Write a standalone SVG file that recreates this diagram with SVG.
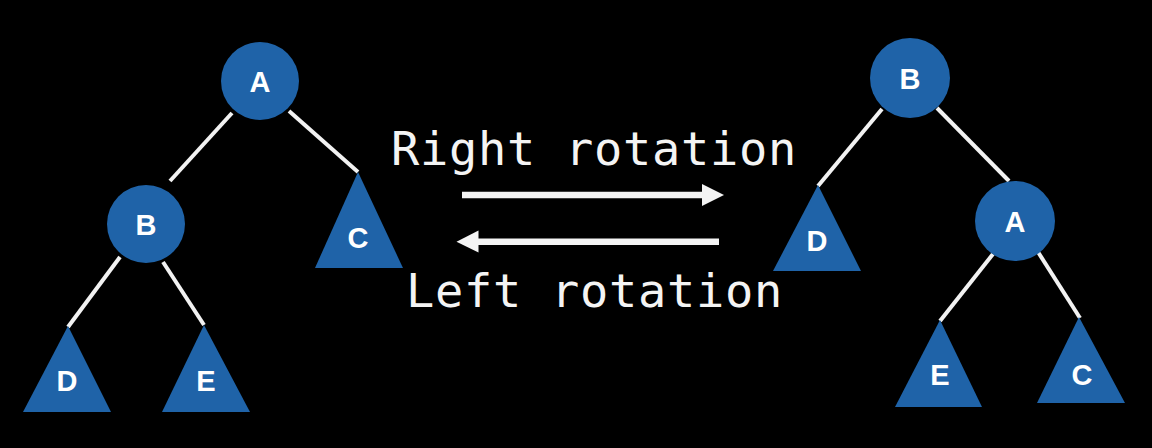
<svg xmlns="http://www.w3.org/2000/svg" width="1152" height="448" viewBox="0 0 1152 448">
  <style>
    .node { fill: #1f63a8; }
    .lbl { font-family: "Liberation Sans", Arial, sans-serif; font-weight: bold; font-size: 29px; fill: #ffffff; text-anchor: middle; }
    .edge { stroke: #f2f2f2; stroke-width: 4; stroke-linecap: butt; }
    .cap { font-family: "DejaVu Sans Mono", "Liberation Mono", monospace; font-size: 47px; letter-spacing: 0.7px; fill: #f4f4f4; }
    .arrow { stroke: #f4f4f4; stroke-width: 6.5; fill: none; }
    .head { fill: #f4f4f4; }
  </style>
  <rect x="0" y="0" width="1152" height="448" fill="#000000"/>

  <g id="connectors">
    <!-- left tree -->
    <line class="edge" x1="232" y1="113" x2="170" y2="181"/>
    <line class="edge" x1="289" y1="111" x2="358" y2="172"/>
    <line class="edge" x1="120" y1="257" x2="68" y2="327"/>
    <line class="edge" x1="163" y1="262" x2="204" y2="325"/>
    <!-- right tree -->
    <line class="edge" x1="882" y1="109" x2="818" y2="186"/>
    <line class="edge" x1="937" y1="108" x2="1009" y2="181"/>
    <line class="edge" x1="993" y1="254" x2="940" y2="321"/>
    <line class="edge" x1="1038" y1="252" x2="1080" y2="318"/>
    <!-- rotation arrows -->
    <line class="arrow" x1="462" y1="195" x2="704" y2="195"/>
    <polygon class="head" points="702,184 724,195 702,206"/>
    <line class="arrow" x1="719" y1="241.7" x2="476" y2="241.7"/>
    <polygon class="head" points="478.5,230.5 456.5,241.7 478.5,252.5"/>
  </g>

  <!-- left tree nodes -->
  <g id="L-A">
    <circle class="node" cx="260" cy="81" r="39"/>
    <text class="lbl" x="260" y="92">A</text>
  </g>
  <g id="L-B">
    <circle class="node" cx="146" cy="224" r="39"/>
    <text class="lbl" x="146" y="235">B</text>
  </g>
  <g id="L-C">
    <polygon class="node" points="358,172 403,268 315,268"/>
    <text class="lbl" x="358" y="248">C</text>
  </g>
  <g id="L-D">
    <polygon class="node" points="68,326 111,412 23,412"/>
    <text class="lbl" x="67" y="391">D</text>
  </g>
  <g id="L-E">
    <polygon class="node" points="204,325 250,412 162,412"/>
    <text class="lbl" x="206" y="391">E</text>
  </g>

  <!-- right tree nodes -->
  <g id="R-B">
    <circle class="node" cx="910" cy="78" r="40"/>
    <text class="lbl" x="910" y="89">B</text>
  </g>
  <g id="R-A">
    <circle class="node" cx="1015" cy="221" r="40"/>
    <text class="lbl" x="1015" y="232">A</text>
  </g>
  <g id="R-D">
    <polygon class="node" points="818,185 861,271 773,271"/>
    <text class="lbl" x="817" y="251">D</text>
  </g>
  <g id="R-E">
    <polygon class="node" points="940,320 982,407 895,407"/>
    <text class="lbl" x="940" y="385">E</text>
  </g>
  <g id="R-C">
    <polygon class="node" points="1079,317 1125,403 1037,403"/>
    <text class="lbl" x="1082" y="385">C</text>
  </g>

  <g id="captions">
    <text class="cap" x="391" y="165">Right rotation</text>
    <text class="cap" x="406" y="307">Left rotation</text>
  </g>
</svg>
